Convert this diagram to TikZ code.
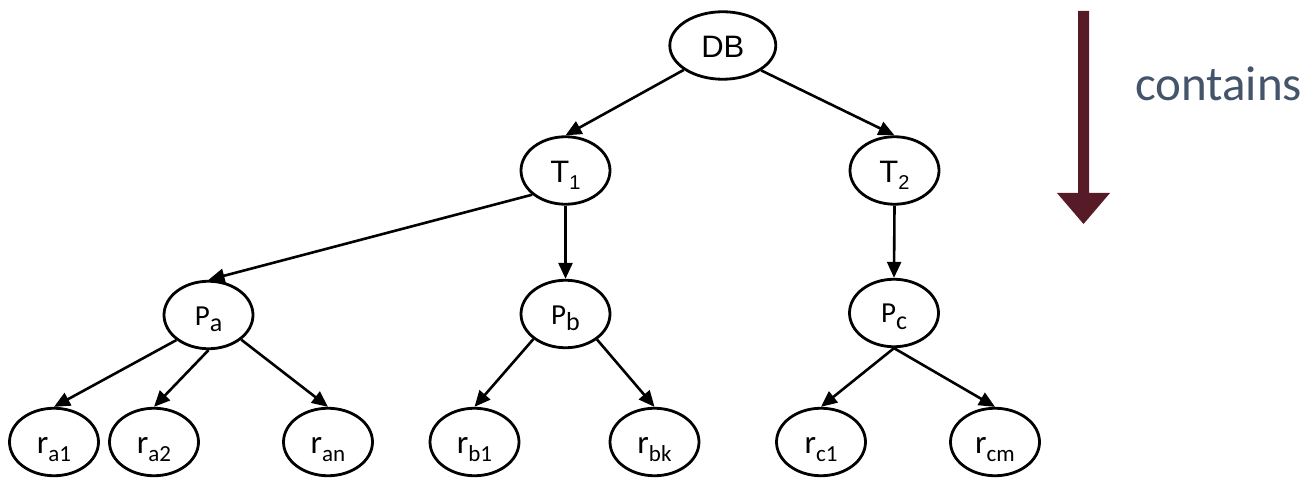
\documentclass[tikz,border=0pt]{standalone}
\usepackage{fontspec}
\setmainfont{Liberation Sans}
\newfontfamily\arialf{Liberation Sans}
\newfontfamily\calib{Carlito}
\usetikzlibrary{shapes.geometric,arrows.meta}
% lowered, smaller subscript in text mode: #1 drop, #2 size, #3 text
\newcommand\dropsub[3]{\raisebox{-#1}{\fontsize{#2}{#2}\selectfont #3}}
\definecolor{arrowred}{RGB}{87,26,39}
\definecolor{slate}{RGB}{68,84,106}
\tikzset{
  elnode/.style={ellipse, draw, line width=2.8pt, inner sep=0pt,
    minimum width=89pt, minimum height=67.5pt, text depth=0pt},
  arialbl/.style={font=\arialf\fontsize{31}{31}\selectfont, text height=24pt},
  plbl/.style={font=\calib\fontsize{29}{29}\selectfont, text height=20pt},
  rlbl/.style={font=\calib\fontsize{33}{33}\selectfont, text height=23pt},
  link/.style={line width=2.6pt, -{Triangle[length=16pt,width=14pt]}},
}
\begin{document}
\begin{tikzpicture}[x=1pt,y=-1pt]
\useasboundingbox (0,0) rectangle (1314,478);
% tree nodes
\node[elnode, arialbl, minimum width=106pt] (DB) at (722.8,45.5) {DB};
\node[elnode, arialbl] (T1) at (565.5,170.5) {T\dropsub{7pt}{20}{1}};
\node[elnode, arialbl] (T2) at (894.5,170.5) {T\dropsub{7pt}{20}{2}};
\node[elnode, plbl] (Pa) at (208.5,315) {P\dropsub{6.5pt}{26}{a}};
\node[elnode, plbl] (Pb) at (565.5,314) {P\dropsub{6.5pt}{26}{b}};
\node[elnode, plbl] (Pc) at (894,313) {P\dropsub{6.5pt}{26}{c}};
\node[elnode, rlbl] (ra1) at (54,442) {r\dropsub{8pt}{23}{a1}};
\node[elnode, rlbl] (ra2) at (154,442) {r\dropsub{8pt}{23}{a2}};
\node[elnode, rlbl] (ran) at (328,442) {r\dropsub{8pt}{23}{an}};
\node[elnode, rlbl] (rb1) at (474.5,442) {r\dropsub{8pt}{23}{b1}};
\node[elnode, rlbl] (rbk) at (654.5,442) {r\dropsub{8pt}{23}{bk}};
\node[elnode, rlbl] (rc1) at (821,442) {r\dropsub{8pt}{23}{c1}};
\node[elnode, rlbl] (rcm) at (995,442) {r\dropsub{8pt}{23}{cm}};
% containment edges
\draw[link] (DB.212) -- (T1.north);
\draw[link] (DB.327) -- (T2.north);
\draw[link] (T1.216) -- (Pa.north);
\draw[link] (T1.south) -- (Pb.north);
\draw[link] (T2.south) -- (Pc.north);
\draw[link] (Pa.218) -- (ra1.north);
\draw[link] (Pa.south) -- (ra2.north);
\draw[link] (Pa.323) -- (ran.north);
\draw[link] (Pb.218) -- (rb1.north);
\draw[link] (Pb.321) -- (rbk.north);
\draw[link] (Pc.south) -- (rc1.north);
\draw[link] (Pc.south) -- (rcm.north);
% legend arrow
\fill[arrowred] (1078,11) -- (1089,11) -- (1089,193) -- (1110,193)
  -- (1083.5,224) -- (1057,193) -- (1078,193) -- cycle;
\node[anchor=base west, inner sep=0pt, text=slate,
  font=\calib\fontsize{49}{49}\selectfont] (legend) at (1135,101) {contains};
\end{tikzpicture}
\end{document}
